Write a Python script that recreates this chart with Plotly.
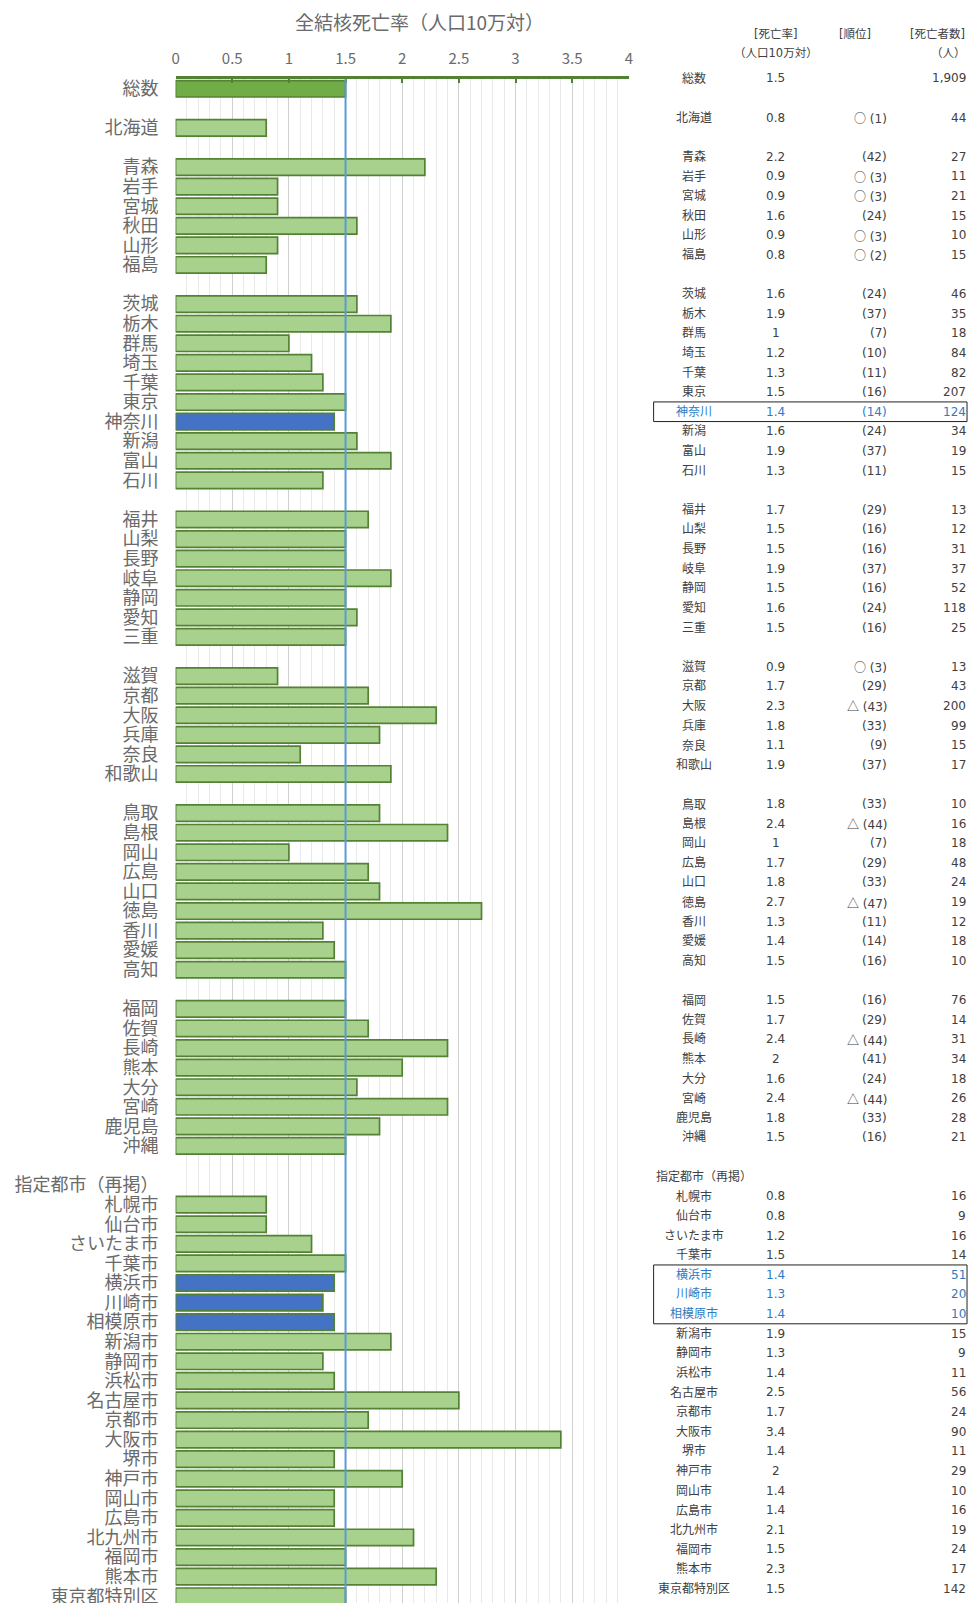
import plotly.graph_objects as go

# ---- data (blank strings = spacer rows) ----
categories = ["総数", "",
              "北海道", "",
              "青森", "岩手", "宮城", "秋田", "山形", "福島", "",
              "茨城", "栃木", "群馬", "埼玉", "千葉", "東京", "神奈川", "新潟", "富山", "石川", "",
              "福井", "山梨", "長野", "岐阜", "静岡", "愛知", "三重", "",
              "滋賀", "京都", "大阪", "兵庫", "奈良", "和歌山", "",
              "鳥取", "島根", "岡山", "広島", "山口", "徳島", "香川", "愛媛", "高知", "",
              "福岡", "佐賀", "長崎", "熊本", "大分", "宮崎", "鹿児島", "沖縄", "",
              "指定都市（再掲）",
              "札幌市", "仙台市", "さいたま市", "千葉市", "横浜市", "川崎市", "相模原市", "新潟市",
              "静岡市", "浜松市", "名古屋市", "京都市", "大阪市", "堺市", "神戸市", "岡山市",
              "広島市", "北九州市", "福岡市", "熊本市", "東京都特別区"]

rates = [1.5, None,
         0.8, None,
         2.2, 0.9, 0.9, 1.6, 0.9, 0.8, None,
         1.6, 1.9, 1.0, 1.2, 1.3, 1.5, 1.4, 1.6, 1.9, 1.3, None,
         1.7, 1.5, 1.5, 1.9, 1.5, 1.6, 1.5, None,
         0.9, 1.7, 2.3, 1.8, 1.1, 1.9, None,
         1.8, 2.4, 1.0, 1.7, 1.8, 2.7, 1.3, 1.4, 1.5, None,
         1.5, 1.7, 2.4, 2.0, 1.6, 2.4, 1.8, 1.5, None,
         None,
         0.8, 0.8, 1.2, 1.5, 1.4, 1.3, 1.4, 1.9,
         1.3, 1.4, 2.5, 1.7, 3.4, 1.4, 2.0, 1.4,
         1.4, 2.1, 1.5, 2.3, 1.5]

ranks = ["", "",
         "○ (1)", "",
         "(42)", "○ (3)", "○ (3)", "(24)", "○ (3)", "○ (2)", "",
         "(24)", "(37)", "(7)", "(10)", "(11)", "(16)", "(14)", "(24)", "(37)", "(11)", "",
         "(29)", "(16)", "(16)", "(37)", "(16)", "(24)", "(16)", "",
         "○ (3)", "(29)", "△ (43)", "(33)", "(9)", "(37)", "",
         "(33)", "△ (44)", "(7)", "(29)", "(33)", "△ (47)", "(11)", "(14)", "(16)", "",
         "(16)", "(29)", "△ (44)", "(41)", "(24)", "△ (44)", "(33)", "(16)", "",
         ""] + [""] * 21

deaths = ["1,909", "",
          "44", "",
          "27", "11", "21", "15", "10", "15", "",
          "46", "35", "18", "84", "82", "207", "124", "34", "19", "15", "",
          "13", "12", "31", "37", "52", "118", "25", "",
          "13", "43", "200", "99", "15", "17", "",
          "10", "16", "18", "48", "24", "19", "12", "18", "10", "",
          "76", "14", "31", "34", "18", "26", "28", "21", "",
          "",
          "16", "9", "16", "14", "51", "20", "10", "15",
          "9", "11", "56", "24", "90", "11", "29", "10",
          "16", "19", "24", "17", "142"]

total_label = "総数"
highlight = ["神奈川", "横浜市", "川崎市", "相模原市"]
group_header = "指定都市（再掲）"
national_rate = rates[0]
x_ticks = [0, 0.5, 1, 1.5, 2, 2.5, 3, 3.5, 4]

# ---- style ----
W, H = 973, 1608          # page viewport is 1603 tall; last row is cut like the reference
TOP = 79
GRAY = "#6a6a6a"
CJK = "Noto Sans CJK JP"
TABLE_FONT = "DejaVu Sans, Noto Sans CJK JP"
TXT = "#404040"
BLUE_TXT = "#2e7bc4"

bar_y, bar_x, fills = [], [], []
for i, (c, v) in enumerate(zip(categories, rates)):
    if v is None:
        continue
    bar_y.append(i)
    bar_x.append(v)
    if c == total_label:
        fills.append("#70ad47")
    elif c in highlight:
        fills.append("#4472c4")
    else:
        fills.append("#a9d18e")

fig = go.Figure()
fig.add_trace(go.Bar(
    x=bar_x, y=bar_y, orientation="h", width=0.84,
    marker=dict(color=fills, line=dict(color="#548235", width=1.7)),
    hoverinfo="skip", showlegend=False,
))

tickvals = [i for i, c in enumerate(categories) if c]
ticktext = [c for c in categories if c]
n_rows = len(categories)

x0p, x1p = 173 / W, 630 / W
fig.update_layout(
    width=W, height=H,
    margin=dict(l=0, r=0, t=TOP, b=0, pad=0),
    plot_bgcolor="white", paper_bgcolor="white",
    showlegend=False,
    xaxis=dict(
        domain=[x0p, x1p], range=[0, 4], side="top",
        tickvals=x_ticks, ticktext=[f"{t:g}" for t in x_ticks],
        tickfont=dict(family=CJK, size=15, color=GRAY),
        showgrid=True, gridcolor="#d0d0d0", gridwidth=1.3,
        minor=dict(dtick=0.1, showgrid=True, gridcolor="#e9e9e9", gridwidth=1),
        zeroline=False,
        showline=True, linecolor="#548235", linewidth=2.5,
        ticks="inside", ticklen=4, tickcolor="#548235", tickwidth=1.5,
        ticklabelstandoff=6,
    ),
    yaxis=dict(
        range=[n_rows - 0.5, -0.5], autorange=False,
        tickvals=tickvals, ticktext=ticktext,
        tickfont=dict(family=CJK, size=18, color=GRAY),
        showgrid=False, zeroline=False, showline=False,
        ticks="", ticklabelstandoff=16, ticklabeloverflow="allow",
    ),
)

# national average reference line
fig.add_shape(type="line", xref="x", yref="y domain", x0=national_rate, x1=national_rate,
              y0=0, y1=1, line=dict(color="#5b9bd5", width=2), layer="above")

def py2paper(py):
    return (H - py) / (H - TOP)

# title
fig.add_annotation(text="全結核死亡率（人口10万対）", xref="paper", yref="paper",
                   x=419 / W, y=py2paper(21), xanchor="center", yanchor="middle",
                   showarrow=False, font=dict(family=CJK, size=19, color=GRAY))

# ---- table on the right ----
ROW0, STEP = 78.3, 19.64
col_name, col_rate, col_rank, col_cnt = 696 / W, 778 / W, 892 / W, 972 / W

def ann(text, x, py, anchor, color, size=12):
    fig.add_annotation(text=text, xref="paper", yref="paper", x=x, y=py2paper(py),
                       xanchor=anchor, yanchor="middle", showarrow=False,
                       font=dict(family=TABLE_FONT, size=size, color=color))

def rank_text(r):
    for sym in ("○", "△"):
        if r.startswith(sym):
            return f"<span style=\"font-family:'Noto Sans CJK JP'\">{sym}</span>" + r[1:]
    return r

# headers
ann("[死亡率]", col_rate, 34, "center", TXT, 11.5)
ann("（人口10万対）", col_rate, 53, "center", TXT, 11.5)
ann("[順位]", 858 / W, 34, "center", TXT, 11.5)
ann("[死亡者数]", 941 / W, 34, "center", TXT, 11.5)
ann("（人）", col_cnt, 53, "right", TXT, 11.5)

for i, c in enumerate(categories):
    if not c:
        continue
    py = ROW0 + i * STEP
    color = BLUE_TXT if c in highlight else TXT
    if c == group_header:
        ann(c, 655 / W, py, "left", color)
        continue
    ann(c, col_name, py, "center", color)
    if rates[i] is not None:
        ann(f"{rates[i]:g}", col_rate, py, "center", color)
    if ranks[i]:
        ann(rank_text(ranks[i]), col_rank, py, "right", color)
    if deaths[i]:
        ann(deaths[i], col_cnt, py, "right", color)

# highlight boxes around the Kanagawa rows
hl_idx = [i for i, c in enumerate(categories) if c in highlight]
blocks = []
for i in hl_idx:
    if blocks and blocks[-1][1] == i - 1:
        blocks[-1][1] = i
    else:
        blocks.append([i, i])
for a, b in blocks:
    fig.add_shape(type="rect", xref="paper", yref="paper",
                  x0=655 / W, x1=971 / W,
                  y0=py2paper(ROW0 + (b + 0.5) * STEP), y1=py2paper(ROW0 + (a - 0.5) * STEP),
                  line=dict(color="#222222", width=1), fillcolor="rgba(0,0,0,0)")

fig.write_html("out.html", config={"displayModeBar": False},
               post_script="document.body.style.margin='0px';document.documentElement.style.overflow='hidden';document.body.style.overflow='hidden';")
